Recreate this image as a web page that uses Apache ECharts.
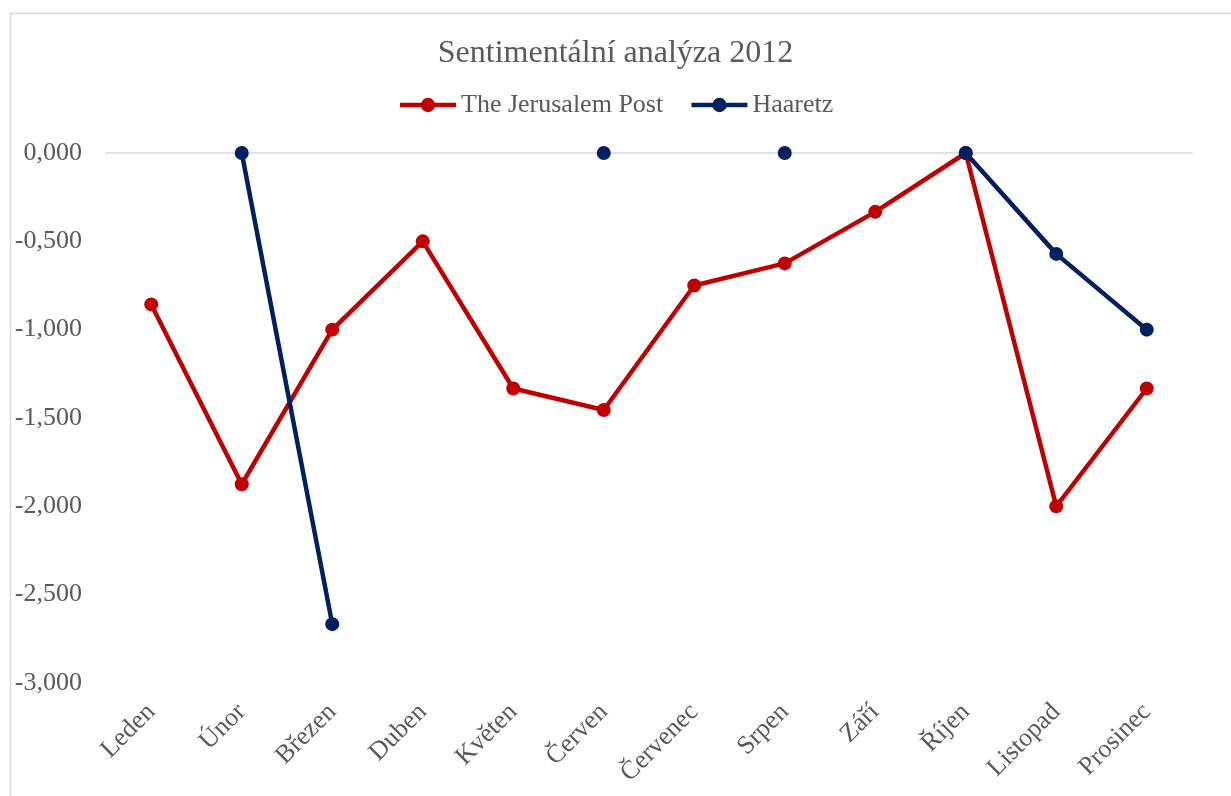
<!DOCTYPE html>
<html><head><meta charset="utf-8">
<script src="https://cdn.jsdelivr.net/npm/echarts@6/dist/echarts.min.js"></script>
<style>html,body{margin:0;padding:0;background:#fff}#c{width:1231px;height:796px}</style>
</head><body><div id="c"></div>
<script>
const categories = ['Leden','Únor','Březen','Duben','Květen','Červen','Červenec','Srpen','Září','Říjen','Listopad','Prosinec'];
const jerusalemPost = [-0.857, -1.875, -1.0, -0.5, -1.333, -1.455, -0.75, -0.625, -0.333, 0, -2.0, -1.333];
const haaretz = [null, 0, -2.667, null, null, 0, null, 0, null, 0, -0.571, -1.0];
const yTicks = { min: -3, max: 0, interval: 0.5 };

const font = '"Liberation Serif", "Times New Roman", serif';
const chart = echarts.init(document.getElementById('c'));
chart.setOption({
  backgroundColor: '#fff',
  animation: false,
  graphic: [{ type: 'rect', shape: { x: 10.5, y: 13.5, width: 1400, height: 1000 },
    style: { fill: 'none', stroke: '#d9d9d9', lineWidth: 1.5 }, silent: true, z: -1 }],
  title: { text: 'Sentimentální analýza 2012', left: 'center', top: 33,
    textStyle: { fontFamily: font, fontSize: 32, fontWeight: 'normal', color: '#595959' } },
  legend: { top: 87, left: 'center', itemWidth: 56, itemHeight: 18, itemGap: 26,
    lineStyle: { width: 4.5 },
    textStyle: { fontFamily: font, fontSize: 26, color: '#595959' },
    data: ['The Jerusalem Post', 'Haaretz'] },
  grid: { left: 106, right: 39, top: 153, bottom: 113 },
  xAxis: [{
    type: 'category', data: categories, position: 'bottom', boundaryGap: true,
    axisLine: { show: false, onZero: false }, axisTick: { show: false },
    axisLabel: { rotate: 45, margin: 25, fontFamily: font, fontSize: 26, color: '#595959', interval: 0 }
  }, {
    type: 'category', data: categories, position: 'top',
    axisLine: { show: true, onZero: false, lineStyle: { color: '#d9d9d9', width: 1.5 } },
    axisTick: { show: false }, axisLabel: { show: false }
  }],
  yAxis: {
    type: 'value', min: yTicks.min, max: yTicks.max, interval: yTicks.interval,
    axisLine: { show: false }, axisTick: { show: false }, splitLine: { show: false },
    axisLabel: { margin: 24, fontFamily: font, fontSize: 26, color: '#595959',
      formatter: v => v.toFixed(3).replace('.', ',') }
  },
  series: [{
    name: 'The Jerusalem Post', type: 'line', data: jerusalemPost,
    symbol: 'circle', symbolSize: 14, showAllSymbol: true,
    lineStyle: { color: '#C00000', width: 4.5 }, itemStyle: { color: '#C00000' }
  }, {
    name: 'Haaretz', type: 'line', data: haaretz, connectNulls: false,
    symbol: 'circle', symbolSize: 14, showAllSymbol: true,
    lineStyle: { color: '#002060', width: 4.5 }, itemStyle: { color: '#002060' }
  }]
});
</script></body></html>
